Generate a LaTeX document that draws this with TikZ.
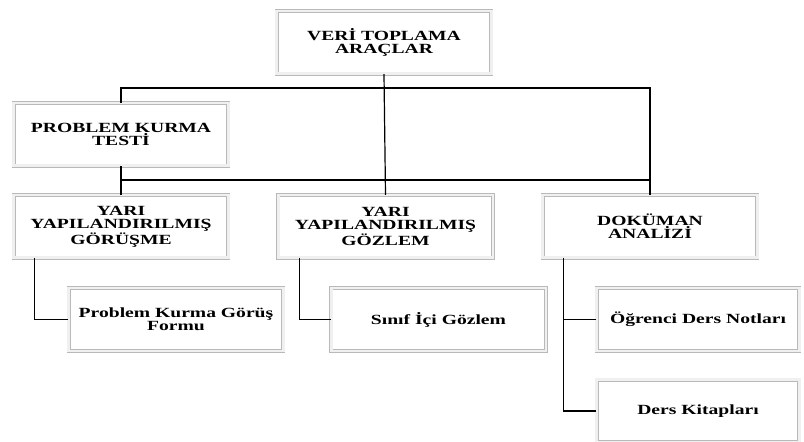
\documentclass[tikz,border=0pt]{standalone}
\usepackage{fontspec}
\usepackage{tikz}
\usetikzlibrary{positioning, calc}
\newfontfamily\kutufont[FakeStretch=1.4]{Liberation Serif}

\tikzset{
  kutu/.style={draw=gray!55, line width=0.5pt, double=gray!12, double distance=2pt,
    fill=white, minimum width=161pt, minimum height=47pt, align=center,
    font={\kutufont\bfseries\fontsize{10.5}{10}\selectfont}},
  kucuk/.style={kutu, minimum width=152pt},
  hat/.style={black, line width=0.9pt}
}

\begin{document}
\begin{tikzpicture}[x=0.75pt, y=-0.75pt]
\useasboundingbox[fill=white] (0,0) rectangle (804,442);
% Draw boxes
\node[kutu] (src) at (384,42.5) {VERİ TOPLAMA\\ARAÇLAR};
\node[kutu] (pkt) at (121,134.5) {PROBLEM KURMA\\TESTİ};
\node[kutu] (yrg) at (121,226.5) {YARI\\YAPILANDIRILMIŞ\\GÖRÜŞME};
\node[kutu] (yrz) at (385.5,226.5) {YARI\\YAPILANDIRILMIŞ\\GÖZLEM};
\node[kutu] (dok) at (650,226.5) {DOKÜMAN\\ANALİZİ};
\node[kutu] (form) at (176,319.5) {Problem Kurma Görüş\\Formu};
\node[kutu] (sinif) at (438.5,319.5) {Sınıf İçi Gözlem};
\node[kucuk] (ogr) at (698,319.5) {Öğrenci Ders Notları};
\node[kucuk] (ders) at (698,411) {Ders Kitapları};
% Draw connectors
\coordinate (bus1) at (0,88);
\coordinate (bus2) at (0,180);
\draw[hat] (src.south) -- (yrz.north);
\draw[hat] (pkt.north) -- (pkt.north |- bus1) -| (dok.north);
\draw[hat] (pkt.south) -- (yrg.north);
\draw[hat] (pkt.south |- bus2) -| (dok.north);
\draw[hat] (yrg.south west) ++(21,0) |- (form.west);
\draw[hat] (yrz.south west) ++(22,0) |- (sinif.west);
\draw[hat] (dok.south west) ++(21,0) |- (ogr.west);
\draw[hat] (dok.south west) ++(21,0) |- (ders.west);
\end{tikzpicture}
\end{document}
